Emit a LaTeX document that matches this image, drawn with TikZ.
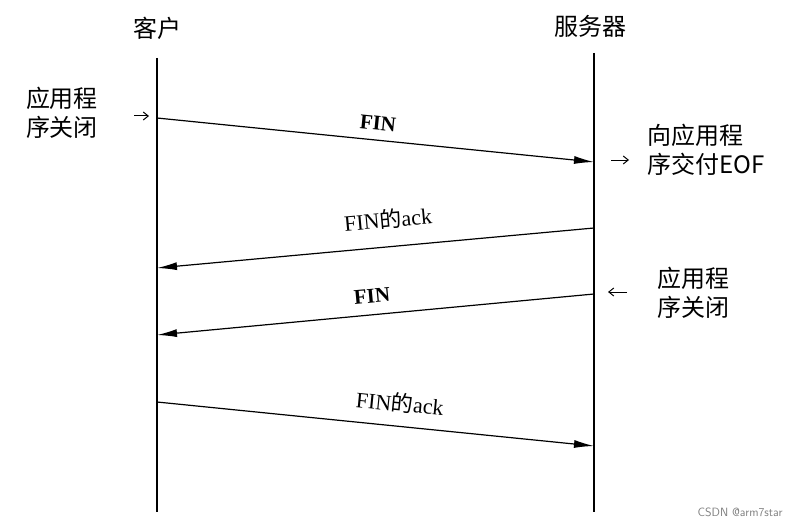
\documentclass[tikz,border=0pt]{standalone}
\usepackage{fontspec}
\setmainfont{Liberation Serif}
\newfontfamily\cjk{Noto Sans CJK SC}
\usetikzlibrary{arrows.meta}
\begin{document}
\begin{tikzpicture}[x=1pt,y=-1pt,
  life/.style={line width=1.3pt},
  msg/.style={line width=1.2pt,-{Latex[length=20pt,width=8pt]}},
  small/.style={line width=1pt,-{Straight Barb[length=5pt,width=8pt]}},
  lbl/.style={font=\fontsize{24}{29}\selectfont\cjk,inner sep=0pt},
  ml/.style={font=\fontsize{22}{24}\selectfont}]
\useasboundingbox (0,0) rectangle (804,527);
\fill[white] (0,0) rectangle (804,527);
\node[lbl] (c) at (157,28) {客户};
\node[lbl] (s) at (590,26) {服务器};
\coordinate (c0) at (157,58); \coordinate (c1) at (157,512);
\coordinate (s0) at (594,53); \coordinate (s1) at (594,512);
\draw[life] (c0) -- (c1); \draw[life] (s0) -- (s1);
\coordinate (a1) at (157,118); \coordinate (b1) at (594,162);
\coordinate (a2) at (594,228); \coordinate (b2) at (157,268);
\coordinate (a3) at (594,294); \coordinate (b3) at (157,335);
\coordinate (a4) at (157,402); \coordinate (b4) at (594,446);
\draw[msg] (a1) -- (b1);
\draw[msg] (a2) -- (b2);
\draw[msg] (a3) -- (b3);
\draw[msg] (a4) -- (b4);
\node[rotate=-5.7,font=\bfseries\fontsize{21}{24}\selectfont] (m1) at (378,123) {FIN};
\node[ml,rotate=5.2] (m2) at (388,219) {FIN{\cjk 的}ack};
\node[rotate=5.3,font=\bfseries\fontsize{21}{24}\selectfont] (m3) at (372,296) {FIN};
\node[ml,rotate=-5.7] (m4) at (400,403) {FIN{\cjk 的}ack};
\node[lbl,align=left] (l1) at (62,113) {应用程\\序关闭};
\node[lbl,align=left] (r1) at (706,150) {向应用程\\序交付EOF};
\node[lbl,align=left] (r2) at (693,293) {应用程\\序关闭};
\coordinate (p1) at (134,116); \coordinate (q1) at (149,116);
\coordinate (p2) at (611,160); \coordinate (q2) at (629,160);
\coordinate (p3) at (627,292); \coordinate (q3) at (608,292);
\draw[small] (p1) -- (q1);
\draw[small] (p2) -- (q2);
\draw[small] (p3) -- (q3);
\node[font=\fontsize{12}{14}\selectfont\sffamily,text=gray] (w) at (740,512) {CSDN @arm7star};
\end{tikzpicture}
\end{document}
